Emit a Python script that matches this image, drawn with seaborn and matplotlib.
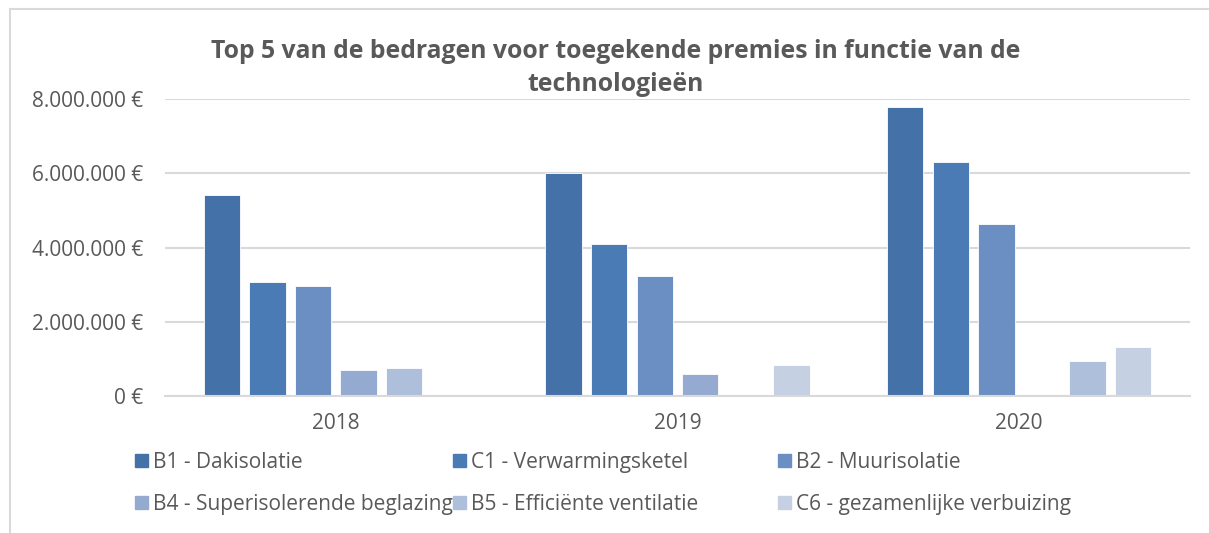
import pandas as pd
import seaborn as sns
import matplotlib.pyplot as plt
from matplotlib.patches import Rectangle

#%% Data

years = ['2018', '2019', '2020']
technologies = ['B1 - Dakisolatie', 'C1 - Verwarmingsketel', 'B2 - Muurisolatie',
                'B4 - Superisolerende beglazing', 'B5 - Efficiënte ventilatie',
                'C6 - gezamenlijke verbuizing']
b1 = [5410000, 6010000, 7790000]
c1 = [3060000, 4090000, 6300000]
b2 = [2950000, 3230000, 4630000]
b4 = [700000, 600000, None]
b5 = [760000, None, 950000]
c6 = [None, 830000, 1320000]
colors = ['#4472A8', '#4A7BB5', '#6B8FC2', '#95AAD0', '#AEBFDC', '#C6D0E3']

series = [b1, c1, b2, b4, b5, c6]
rows = []
for tech, vals in zip(technologies, series):
    for year, v in zip(years, vals):
        rows.append({'jaar': year, 'technologie': tech, 'bedrag': v})
df = pd.DataFrame(rows).dropna()

#%% Plot

sns.set_style('white')
plt.rcParams['font.family'] = ['Open Sans', 'DejaVu Sans']
grey = '#595959'

fig = plt.figure(figsize=(12.09, 5.33), dpi=100)
ax = fig.add_axes([165/1209, (533-396)/533, (1190-165)/1209, 297/533])

sns.barplot(data=df, x='jaar', y='bedrag', hue='technologie', hue_order=technologies,
            order=years, palette=colors, saturation=1, width=0.8, gap=0.2,
            edgecolor='white', linewidth=0.6, ax=ax, legend=False)

ax.set_ylim(0, 8000000)
ax.set_yticks([0, 2000000, 4000000, 6000000, 8000000])
ax.set_yticklabels(['0 €', '2.000.000 €', '4.000.000 €', '6.000.000 €', '8.000.000 €'])
ax.set_xlabel('')
ax.set_ylabel('')
ax.yaxis.grid(True, color='#D9D9D9', linewidth=1.5)
ax.set_axisbelow(True)
for s in ['left', 'right', 'top']:
    ax.spines[s].set_visible(False)
ax.spines['bottom'].set_color('#D9D9D9')
ax.spines['bottom'].set_linewidth(1.5)
ax.tick_params(axis='both', length=0, labelsize=15, labelcolor=grey)
ax.tick_params(axis='y', pad=16)
ax.tick_params(axis='x', pad=12)

fig.text(616/1209, 1 - 68/533, 'Top 5 van de bedragen voor toegekende premies in functie van de\ntechnologieën',
         ha='center', va='center', fontsize=17.8, fontweight='bold', color=grey, linespacing=1.45)

# legend: three columns, placed like the original
col_x = [135, 453, 778]
for j in range(3):
    handles = [Rectangle((0, 0), 1, 1, color=colors[j]), Rectangle((0, 0), 1, 1, color=colors[j + 3])]
    labels = [technologies[j], technologies[j + 3]]
    fig.legend(handles, labels, loc='upper left', bbox_to_anchor=(col_x[j]/1209, 1 - 452/533),
               frameon=False, fontsize=15, labelcolor=grey, handlelength=0.63, handleheight=0.63,
               handletextpad=0.25, labelspacing=1.0, borderpad=0, borderaxespad=0)

# chart border
fig.add_artist(Rectangle((10/1209, -0.01), 1.2, 1 - 9/533 + 0.01, transform=fig.transFigure,
                         fill=False, edgecolor='#D9D9D9', linewidth=1.5))

fig.savefig('out.png', dpi=100)
